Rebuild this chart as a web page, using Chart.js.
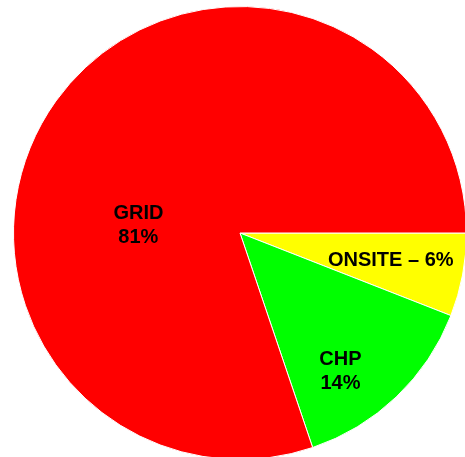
<!DOCTYPE html>
<html lang="en">
<head>
    <meta charset="UTF-8">
    <title>Energy Source Share</title>
    <script src="https://cdn.jsdelivr.net/npm/chart.js"></script>
    <style>
        html, body { margin: 0; padding: 0; overflow: hidden; background: #fff; }
        canvas { display: block; }
    </style>
</head>
<body>
    <canvas id="sourceChart" width="480" height="466"></canvas>
    <script>
        // share of supply by source, in percent
        const sources = ['ONSITE', 'CHP', 'GRID'];
        const shares = [6, 14, 81];
        const sliceColors = ['#ffff00', '#00ff00', '#ff0000'];

        // label lines for each slice
        const sliceLabels = [
            ['ONSITE \u2013 6%'],
            ['CHP', '14%'],
            ['GRID', '81%']
        ];

        // where each label sits: angle (deg, clockwise from 3 o'clock) and fraction of radius
        const labelPlacement = [
            { angle: 10.5, frac: 0.677 },
            { angle: 54.1, frac: 0.756 },
            { angle: 184.5, frac: 0.45 }
        ];

        const sliceLabelPlugin = {
            id: 'sliceLabels',
            afterDatasetsDraw(chart) {
                const ctx = chart.ctx;
                const arcs = chart.getDatasetMeta(0).data;
                ctx.save();
                ctx.font = 'bold 20px "Liberation Sans", Arial, sans-serif';
                ctx.fillStyle = '#000';
                ctx.textAlign = 'center';
                ctx.textBaseline = 'middle';
                arcs.forEach((arc, i) => {
                    const p = labelPlacement[i];
                    const a = p.angle * Math.PI / 180;
                    const r = arc.outerRadius * p.frac;
                    const x = arc.x + Math.cos(a) * r;
                    const y = arc.y + Math.sin(a) * r;
                    const lines = sliceLabels[i];
                    const lh = 24;
                    lines.forEach((txt, j) => {
                        ctx.fillText(txt, x, y + (j - (lines.length - 1) / 2) * lh);
                    });
                });
                ctx.restore();
            }
        };

        const ctx = document.getElementById('sourceChart').getContext('2d');
        new Chart(ctx, {
            type: 'pie',
            data: {
                labels: sources,
                datasets: [{
                    data: shares,
                    backgroundColor: sliceColors,
                    borderColor: '#ffffff',
                    borderWidth: 1
                }]
            },
            options: {
                responsive: false,
                devicePixelRatio: 1,
                animation: false,
                rotation: 90,
                layout: { padding: { left: 13, right: 13, top: 6, bottom: 6 } },
                plugins: {
                    legend: { display: false },
                    tooltip: { enabled: false }
                }
            },
            plugins: [sliceLabelPlugin]
        });
    </script>
</body>
</html>
